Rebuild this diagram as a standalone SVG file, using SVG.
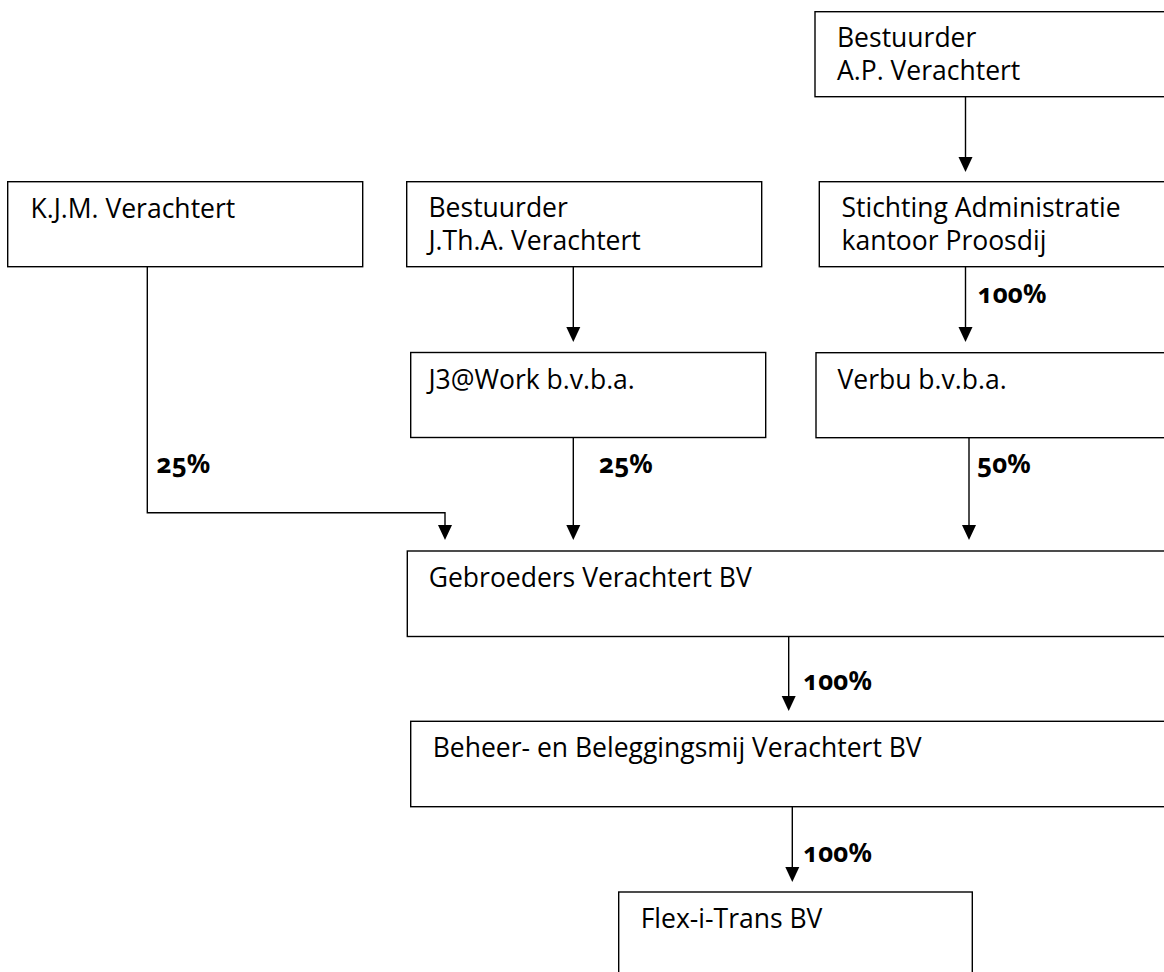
<svg xmlns="http://www.w3.org/2000/svg" width="1164" height="972" viewBox="0 0 1164 972">
<style>
.box{fill:#fff;stroke:#000;stroke-width:1.4}
.t{font-family:"Open Sans","Noto Sans",sans-serif;font-size:26.5px;fill:#000}
.p{font-family:"Noto Sans","Open Sans",sans-serif;font-size:26px;font-weight:bold;fill:#000;font-variant-numeric:oldstyle-nums;font-feature-settings:"onum" 1}
.c{fill:none;stroke:#000;stroke-width:1.4}
</style>
<rect width="1164" height="972" fill="#fff"/>
<g id="connectors">
<path class="c" d="M965.5,96.7 V157"/>
<path d="M958.5,157 L972.5,157 L965.5,172 Z"/>
<path class="c" d="M573.3,266.7 V327"/>
<path d="M566.3,327 L580.3,327 L573.3,342 Z"/>
<path class="c" d="M965.5,266.7 V327"/>
<path d="M958.5,327 L972.5,327 L965.5,342 Z"/>
<path class="c" d="M147.3,266.7 V512.7 H445 V525"/>
<path d="M438,525 L452,525 L445,540 Z"/>
<path class="c" d="M573.3,437.7 V525"/>
<path d="M566.3,525 L580.3,525 L573.3,540 Z"/>
<path class="c" d="M969,437.7 V525"/>
<path d="M962,525 L976,525 L969,540 Z"/>
<path class="c" d="M788.7,636.5 V696"/>
<path d="M781.7,696 L795.7,696 L788.7,711 Z"/>
<path class="c" d="M792.3,806.7 V867"/>
<path d="M785.3,867 L799.3,867 L792.3,882 Z"/>
<text class="p" x="977.5" y="302.5">100%</text>
<text class="p" x="156.5" y="473">25%</text>
<text class="p" x="599" y="473">25%</text>
<text class="p" x="977" y="473">50%</text>
<text class="p" x="803" y="690">100%</text>
<text class="p" x="803" y="861.5">100%</text>
</g>
<g id="n-ap"><rect class="box" x="815" y="11.7" width="380" height="85"/><text class="t" x="837" y="47">Bestuurder</text><text class="t" x="837" y="80">A.P. Verachtert</text></g>
<g id="n-kjm"><rect class="box" x="7.7" y="181.7" width="355" height="85"/><text class="t" x="30.5" y="218">K.J.M. Verachtert</text></g>
<g id="n-jtha"><rect class="box" x="406.7" y="181.7" width="355" height="85"/><text class="t" x="428.5" y="217">Bestuurder</text><text class="t" x="428.5" y="250">J.Th.A. Verachtert</text></g>
<g id="n-stichting"><rect class="box" x="819.3" y="181.7" width="380" height="85"/><text class="t" x="841.5" y="217">Stichting Administratie</text><text class="t" x="841.5" y="250">kantoor Proosdij</text></g>
<g id="n-j3"><rect class="box" x="410.7" y="352.5" width="355" height="85"/><text class="t" x="428.5" y="389">J3@Work b.v.b.a.</text></g>
<g id="n-verbu"><rect class="box" x="816" y="352.7" width="380" height="85"/><text class="t" x="837.5" y="389">Verbu b.v.b.a.</text></g>
<g id="n-gebroeders"><rect class="box" x="407.3" y="551" width="800" height="85.5"/><text class="t" x="428.7" y="587">Gebroeders Verachtert BV</text></g>
<g id="n-beheer"><rect class="box" x="410.7" y="721.3" width="800" height="85.4"/><text class="t" x="432.7" y="757">Beheer- en Beleggingsmij Verachtert BV</text></g>
<g id="n-flex"><rect class="box" x="618.7" y="892" width="353.6" height="120"/><text class="t" x="640.7" y="928">Flex-i-Trans BV</text></g>
</svg>
